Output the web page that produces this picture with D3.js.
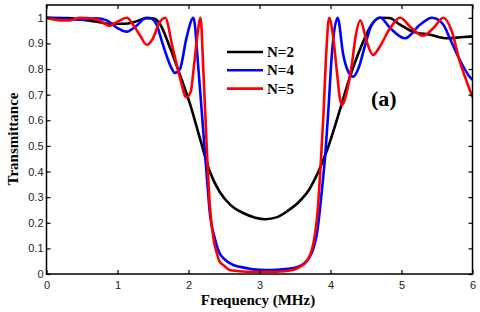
<!DOCTYPE html>
<html>
<head>
<meta charset="utf-8">
<script src="https://cdn.jsdelivr.net/npm/d3@7"></script>
<style>
  body { margin: 0; background: #fff; }
  svg { display: block; }
  .tick text { font-family: "Liberation Sans", Arial, sans-serif; font-size: 11px; fill: #222; }
  .serif { font-family: "Liberation Serif", "DejaVu Serif", serif; font-weight: bold; fill: #000; }
</style>
</head>
<body>
<svg id="chart" width="480" height="312"></svg>
<script>
// frequency (MHz) / transmittance
const freqN2 = [0, 0.3, 0.5, 0.7, 0.9, 1.1, 1.25, 1.4, 1.5, 1.6, 1.74, 1.88, 2.02, 2.16, 2.30, 2.44, 2.59, 2.77, 2.94, 3.08, 3.25, 3.39, 3.55, 3.70, 3.83, 3.96, 4.11, 4.27, 4.42, 4.55, 4.69, 4.83, 4.98, 5.16, 5.40, 5.64, 5.87, 6.0];
const transN2 = [1.0, 0.999, 0.993, 0.985, 0.977, 0.977, 0.985, 0.998, 0.998, 0.975, 0.883, 0.777, 0.665, 0.53, 0.40, 0.32, 0.27, 0.238, 0.22, 0.214, 0.222, 0.245, 0.28, 0.33, 0.40, 0.49, 0.62, 0.766, 0.88, 0.96, 1.0, 0.999, 0.973, 0.946, 0.934, 0.92, 0.925, 0.927];

const freqN4 = [0, 0.3, 0.5, 0.7, 0.85, 1.0, 1.13, 1.25, 1.41, 1.46, 1.55, 1.64, 1.74, 1.81, 1.88, 1.97, 2.07, 2.14, 2.21, 2.26, 2.30, 2.37, 2.44, 2.49, 2.63, 2.82, 2.91, 3.1, 3.24, 3.40, 3.52, 3.62, 3.71, 3.77, 3.81, 3.88, 3.93, 3.97, 4.02, 4.10, 4.18, 4.25, 4.32, 4.39, 4.49, 4.58, 4.70, 4.84, 5.05, 5.26, 5.43, 5.59, 5.68, 5.82, 5.96, 6.0];
const transN4 = [1.0, 0.995, 0.993, 0.998, 0.99, 0.96, 0.946, 0.965, 1.0, 0.999, 0.973, 0.895, 0.816, 0.785, 0.80, 0.92, 1.0, 0.80, 0.55, 0.375, 0.24, 0.14, 0.08, 0.062, 0.035, 0.023, 0.018, 0.015, 0.016, 0.02, 0.026, 0.04, 0.068, 0.11, 0.16, 0.33, 0.48, 0.64, 0.86, 1.0, 0.855, 0.79, 0.77, 0.80, 0.895, 0.973, 1.0, 0.96, 0.92, 0.973, 1.0, 0.973, 0.92, 0.836, 0.77, 0.758];

const freqN5 = [0, 0.2, 0.33, 0.47, 0.7, 0.89, 1.0, 1.13, 1.22, 1.32, 1.41, 1.5, 1.58, 1.67, 1.78, 1.88, 1.97, 2.03, 2.08, 2.12, 2.17, 2.21, 2.26, 2.30, 2.35, 2.40, 2.44, 2.49, 2.58, 2.68, 2.82, 3.24, 3.47, 3.58, 3.66, 3.72, 3.76, 3.82, 3.86, 3.90, 3.94, 3.98, 4.04, 4.09, 4.13, 4.16, 4.23, 4.30, 4.35, 4.42, 4.51, 4.60, 4.70, 4.84, 4.98, 5.14, 5.30, 5.45, 5.59, 5.71, 5.82, 5.92, 6.0];
const transN5 = [1.0, 0.99, 0.99, 1.0, 0.995, 0.969, 0.985, 1.0, 0.973, 0.93, 0.895, 0.92, 0.975, 1.0, 0.88, 0.766, 0.69, 0.71, 0.82, 0.92, 1.0, 0.79, 0.476, 0.27, 0.14, 0.08, 0.047, 0.035, 0.016, 0.012, 0.009, 0.009, 0.016, 0.03, 0.048, 0.08, 0.12, 0.25, 0.42, 0.62, 0.86, 1.0, 0.92, 0.79, 0.69, 0.66, 0.712, 0.816, 0.92, 0.99, 0.907, 0.855, 0.89, 0.96, 1.0, 0.96, 0.93, 0.96, 1.0, 0.946, 0.83, 0.75, 0.69];

const seriesNames = ["N=2", "N=4", "N=5"];
const seriesColors = ["#000000", "#0000ff", "#ff0000"];
const xTicks = [0, 1, 2, 3, 4, 5, 6];
const yTicks = [0, 0.1, 0.2, 0.3, 0.4, 0.5, 0.6, 0.7, 0.8, 0.9, 1];

const series = [
    {name: seriesNames[0], color: seriesColors[0], pts: freqN2.map((f, i) => [f, transN2[i]])},
    {name: seriesNames[1], color: seriesColors[1], pts: freqN4.map((f, i) => [f, transN4[i]])},
    {name: seriesNames[2], color: seriesColors[2], pts: freqN5.map((f, i) => [f, transN5[i]])}
];

const svg = d3.select("#chart");
const plotLeft = 46.5, plotRight = 472.5, plotTop = 5, plotBottom = 274;

const x = d3.scaleLinear().domain([0, 6]).range([plotLeft, plotRight]);
const y = d3.scaleLinear().domain([0, 1.05]).range([plotBottom, plotTop]);

// curves (clipped to the axes box)
svg.append("clipPath").attr("id", "clip")
    .append("rect").attr("x", plotLeft).attr("y", plotTop).attr("width", plotRight - plotLeft).attr("height", plotBottom - plotTop);

const line = d3.line()
    .x(d => x(d[0]))
    .y(d => y(d[1]))
    .curve(d3.curveMonotoneX);

svg.append("g").attr("clip-path", "url(#clip)")
    .selectAll("path")
    .data(series)
    .join("path")
    .attr("d", d => line(d.pts))
    .attr("fill", "none")
    .attr("stroke", d => d.color)
    .attr("stroke-width", 2.6)
    .attr("stroke-linejoin", "round");

// axes, ticks pointing inward like matlab
const fmt = d => d === 0 ? "0" : d === 1 ? "1" : d3.format(".1f")(d);

svg.append("g")
    .attr("transform", `translate(0,${plotBottom})`)
    .call(d3.axisBottom(x).tickValues(xTicks).tickSizeInner(-4).tickSizeOuter(0).tickPadding(7).tickFormat(d3.format("d")));
svg.append("g")
    .attr("transform", `translate(${plotLeft},0)`)
    .call(d3.axisLeft(y).tickValues(yTicks).tickSizeInner(-4).tickSizeOuter(0).tickPadding(3).tickFormat(fmt));
svg.append("g")
    .attr("transform", `translate(0,${plotTop})`)
    .call(d3.axisTop(x).tickValues(xTicks).tickSizeInner(-4).tickSizeOuter(0).tickFormat(""));
svg.append("g")
    .attr("transform", `translate(${plotRight},0)`)
    .call(d3.axisRight(y).tickValues(yTicks).tickSizeInner(-4).tickSizeOuter(0).tickFormat(""));

svg.selectAll(".domain").remove();
svg.selectAll(".tick line").attr("stroke", "#000").attr("stroke-width", 1.2);

// frame
svg.append("rect")
    .attr("x", plotLeft).attr("y", plotTop)
    .attr("width", plotRight - plotLeft).attr("height", plotBottom - plotTop)
    .attr("fill", "none").attr("stroke", "#000").attr("stroke-width", 1.5);

// axis labels
svg.append("text")
    .attr("class", "serif")
    .attr("x", 258).attr("y", 305)
    .attr("text-anchor", "middle")
    .style("font-size", "15px")
    .text("Frequency (MHz)");

svg.append("text")
    .attr("class", "serif")
    .attr("transform", "translate(18,139) rotate(-90)")
    .attr("text-anchor", "middle")
    .style("font-size", "15px")
    .text("Transmittance");

// legend
const legend = svg.append("g");
series.forEach((s, i) => {
    const ly = 52 + i * 18.3;
    legend.append("line")
        .attr("x1", 227).attr("x2", 263).attr("y1", ly).attr("y2", ly)
        .attr("stroke", s.color).attr("stroke-width", 2.6);
    legend.append("text")
        .attr("class", "serif")
        .attr("x", 267).attr("y", ly + 5)
        .style("font-size", "15px")
        .text(s.name);
});

svg.append("text")
    .attr("class", "serif")
    .attr("x", 371).attr("y", 106)
    .style("font-size", "22px")
    .text("(a)");
</script>
</body>
</html>
